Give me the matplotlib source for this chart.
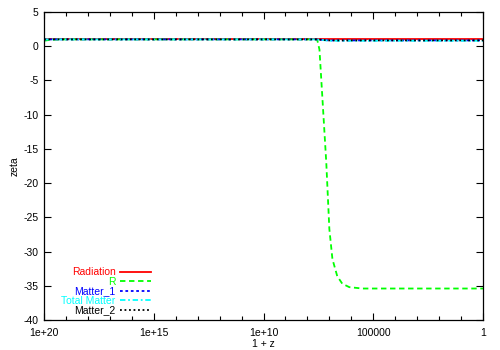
import numpy as np
import matplotlib
matplotlib.use('Agg')
import matplotlib.pyplot as plt
from matplotlib.ticker import FixedLocator, FixedFormatter, NullFormatter

# log10(1 + z) positions and zeta values
rad_logz = [20, 0]
rad_zeta = [1.0, 1.0]

r_logz = [20, 19.8, 19.5, 19, 15, 10, 8, 7.6, 7.55, 7.45, 7.32, 7.14, 7.0, 6.86, 6.64, 6.41, 6.09, 5.5, 0]
r_zeta = [0.8, 0.9, 0.97, 1.0, 1.0, 1.0, 1.0, 1.0, 0.92, -0.5, -7.4, -17.0, -26.7, -31.1, -33.6, -34.7, -35.2, -35.4, -35.4]

m_logz = [20, 7.6, 7.0, 0]
m1_zeta = [1.0, 1.0, 0.85, 0.85]
mt_zeta = [1.0, 1.0, 0.8, 0.8]
m2_zeta = [1.0, 1.0, 0.85, 0.85]

xtick_vals = [1e20, 1e15, 1e10, 1e5, 1]
xtick_labels = ['1e+20', '1e+15', '1e+10', '100000', '1']
ytick_vals = list(range(-40, 6, 5))

plt.rcParams['font.family'] = ['Liberation Sans', 'DejaVu Sans']
plt.rcParams['font.size'] = 7.5
plt.rcParams['axes.unicode_minus'] = False

fig = plt.figure(figsize=(5, 3.5), dpi=100)
ax = fig.add_axes([0.088, 0.0857, 0.878, 0.88])

ax.plot(np.power(10.0, rad_logz), rad_zeta, color='#ff0000', lw=1.3, label='Radiation')
ax.plot(np.power(10.0, r_logz), r_zeta, color='#00ff00', lw=1.3, dashes=(3, 2), label='R')
ax.plot(np.power(10.0, m_logz), m1_zeta, color='#0000ff', lw=1.3, dashes=(1.5, 1.5), label='Matter_1')
ax.plot(np.power(10.0, m_logz), mt_zeta, color='#00ffff', lw=1.3, dashes=(3, 1.5, 1, 1.5), label='Total Matter')
ax.plot(np.power(10.0, m_logz), m2_zeta, color='#000000', lw=1.3, dashes=(1, 1.5), label='Matter_2')

ax.set_xscale('log')
ax.set_xlim(1e20, 1)
ax.set_ylim(-40, 5)

ax.xaxis.set_major_locator(FixedLocator(xtick_vals))
ax.xaxis.set_major_formatter(FixedFormatter(xtick_labels))
ax.xaxis.set_minor_locator(FixedLocator([10.0 ** k for k in range(1, 20)]))
ax.xaxis.set_minor_formatter(NullFormatter())
ax.set_yticks(ytick_vals)

ax.tick_params(which='both', direction='in', top=True, right=True, width=0.8)
ax.tick_params(which='major', length=5)
ax.tick_params(which='minor', length=3)
ax.tick_params(axis='x', which='major', pad=6)
ax.tick_params(axis='y', which='major', pad=4)
for s in ax.spines.values():
    s.set_linewidth(0.9)

ax.set_xlabel('1 + z', labelpad=0.5)
ax.set_ylabel('zeta', labelpad=3)

leg = ax.legend(loc='lower right', bbox_to_anchor=(0.257, -0.005), frameon=False,
                markerfirst=False, labelcolor='linecolor', handlelength=2.9,
                handletextpad=0.45, labelspacing=-0.05, borderpad=0.1)

fig.savefig('out.png', dpi=100)
